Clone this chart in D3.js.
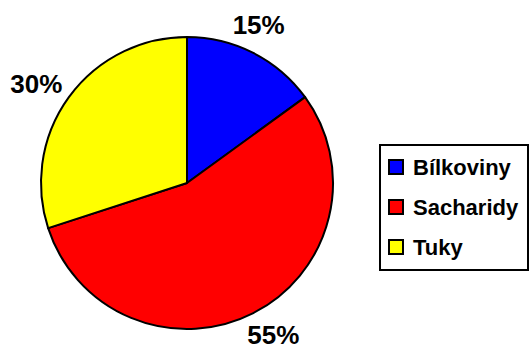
<!DOCTYPE html>
<html>
<head>
<meta charset="utf-8">
<script src="https://cdn.jsdelivr.net/npm/d3@7"></script>
<style>
  body { margin: 0; background: #fff; }
  text { font-family: "Liberation Sans", Arial, sans-serif; font-weight: bold; fill: #000; }
</style>
</head>
<body>
<div id="chart"></div>
<script>
// chart data
const categories = ["Bílkoviny", "Sacharidy", "Tuky"];
const values = [15, 55, 30];
const labels = ["15%", "55%", "30%"];
const colors = ["#0000ff", "#ff0000", "#ffff00"];

const width = 529;
const height = 349;
const cx = 187;
const cy = 183;
const radius = 146;

const svg = d3.select("#chart")
  .append("svg")
  .attr("width", width)
  .attr("height", height);

const pie = d3.pie().sort(null).value((d) => d);
const arc = d3.arc().innerRadius(0).outerRadius(radius);
const color = d3.scaleOrdinal().domain(categories).range(colors);

const arcs = pie(values);

const g = svg.append("g").attr("transform", `translate(${cx},${cy})`);

g.selectAll("path")
  .data(arcs)
  .enter()
  .append("path")
  .attr("d", arc)
  .attr("fill", (d, i) => color(categories[i]))
  .attr("stroke", "#000")
  .attr("stroke-width", 2)
  .attr("stroke-linejoin", "round");

// outside-end labels: push the label box out along the bisector so it clears the rim
const gap = 7;
const pct = g.selectAll("text.pct")
  .data(arcs)
  .enter()
  .append("text")
  .attr("class", "pct")
  .attr("text-anchor", "middle")
  .attr("dominant-baseline", "central")
  .style("font-size", "26px")
  .text((d, i) => labels[i]);

pct.each(function (d) {
  const box = this.getBBox();
  // excel nudges the labels a touch counter-clockwise
  const a = (d.startAngle + d.endAngle) / 2 - 0.045;
  const s = Math.sin(a);
  const c = Math.cos(a);
  const r = radius + gap + Math.abs(s) * box.width / 2 + Math.abs(c) * box.height / 2 * 0.7;
  d3.select(this)
    .attr("x", r * s)
    .attr("y", -r * c);
});

// legend
const legend = svg.append("g").attr("transform", "translate(380,145)");
legend.append("rect")
  .attr("width", 148)
  .attr("height", 125)
  .attr("fill", "#fff")
  .attr("stroke", "#000")
  .attr("stroke-width", 2);

const rows = legend.selectAll("g.row")
  .data(categories)
  .enter()
  .append("g")
  .attr("class", "row")
  .attr("transform", (d, i) => `translate(9,${22 + i * 40})`);

rows.append("rect")
  .attr("y", -7)
  .attr("width", 14)
  .attr("height", 14)
  .attr("fill", (d) => color(d))
  .attr("stroke", "#000")
  .attr("stroke-width", 2);

rows.append("text")
  .attr("x", 24)
  .attr("y", 8)
  .style("font-size", "22px")
  .text((d) => d);
</script>
</body>
</html>
